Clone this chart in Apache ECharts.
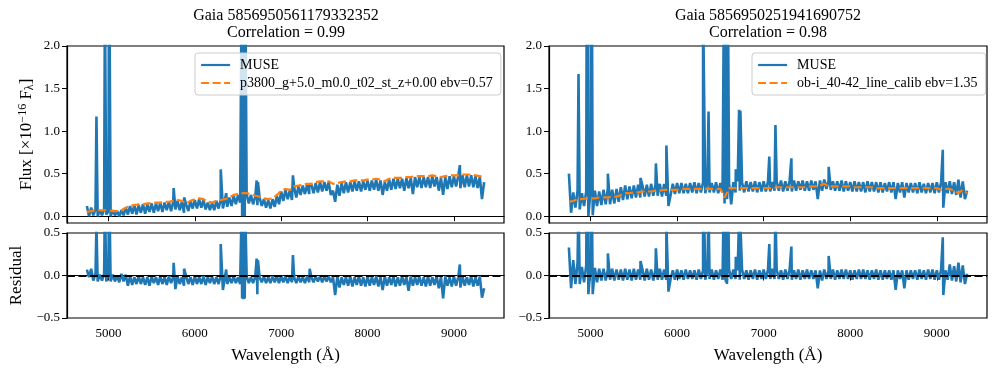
<!DOCTYPE html>
<html>
  <head>
    <meta charset="utf-8" />
    <title>Gaia spectra vs models</title>
    <script src="https://cdn.jsdelivr.net/npm/echarts@6/dist/echarts.min.js"></script>
  </head>
  <body style="margin:0;background:#fff;">
    <div id="main" style="width:997px;height:374px;"></div>
    <script type="text/javascript">
      // MUSE grid: 4750 .. 9350 A, 25 A step, alternating top / bottom of the noise band
      const waveStart = 4750, waveStep = 25;
      // model grid: 4750 .. 9350 A, 50 A step
      const modelStart = 4750, modelStep = 50;

      const leftFlux = [
        0.12, 0.00, 0.10, 0.01, 0.08, 0.00, 0.07, 0.01, 0.08, 0.02, 0.06, 0.00,
        0.07, 0.01, 0.06, 0.00, 0.07, 0.01, 0.10, 0.02, 0.12, 0.03, 0.13, 0.02,
        0.13, 0.04, 0.14, 0.03, 0.14, 0.05, 0.15, 0.04, 0.15, 0.06, 0.16, 0.05,
        0.16, 0.07, 0.17, 0.06, 0.17, 0.08, 0.18, 0.07, 0.17, 0.04, 0.14, 0.06,
        0.18, 0.09, 0.19, 0.09, 0.20, 0.10, 0.19, 0.08, 0.16, 0.07, 0.16, 0.07,
        0.18, 0.09, 0.19, 0.09, 0.20, 0.11, 0.22, 0.12, 0.24, 0.14, 0.25, 0.16,
        0.26, 0.16, 0.26, 0.15, 0.25, 0.14, 0.23, 0.13, 0.22, 0.12, 0.20, 0.10,
        0.19, 0.09, 0.20, 0.11, 0.24, 0.14, 0.29, 0.18, 0.31, 0.20, 0.30, 0.19,
        0.34, 0.22, 0.35, 0.25, 0.36, 0.26, 0.37, 0.26, 0.37, 0.27, 0.39, 0.28,
        0.40, 0.29, 0.40, 0.30, 0.40, 0.25, 0.30, 0.17, 0.37, 0.24, 0.39, 0.27,
        0.40, 0.28, 0.40, 0.29, 0.41, 0.30, 0.41, 0.29, 0.41, 0.31, 0.42, 0.30,
        0.42, 0.31, 0.43, 0.30, 0.42, 0.25, 0.40, 0.30, 0.43, 0.31, 0.44, 0.32,
        0.44, 0.33, 0.44, 0.30, 0.45, 0.33, 0.45, 0.26, 0.46, 0.34, 0.46, 0.33,
        0.46, 0.34, 0.46, 0.33, 0.47, 0.35, 0.46, 0.30, 0.45, 0.25, 0.46, 0.32,
        0.47, 0.34, 0.47, 0.35, 0.47, 0.33, 0.48, 0.34, 0.48, 0.35, 0.48, 0.34,
        0.47, 0.33, 0.46, 0.20, 0.40
      ];
      const leftModel = [
        0.05, 0.06, 0.07, 0.07, 0.07, 0.07, 0.06, 0.06, 0.07, 0.10, 0.12, 0.13,
        0.14, 0.14, 0.15, 0.15, 0.16, 0.16, 0.17, 0.17, 0.18, 0.19, 0.18, 0.15,
        0.18, 0.20, 0.21, 0.20, 0.17, 0.16, 0.18, 0.19, 0.20, 0.22, 0.25, 0.26,
        0.27, 0.27, 0.26, 0.24, 0.23, 0.21, 0.20, 0.21, 0.25, 0.30, 0.32, 0.31,
        0.35, 0.36, 0.37, 0.38, 0.38, 0.40, 0.41, 0.41, 0.41, 0.38, 0.39, 0.40,
        0.41, 0.41, 0.42, 0.42, 0.42, 0.43, 0.43, 0.44, 0.43, 0.41, 0.44, 0.45,
        0.45, 0.45, 0.46, 0.46, 0.47, 0.47, 0.47, 0.47, 0.48, 0.47, 0.46, 0.47,
        0.48, 0.48, 0.48, 0.49, 0.49, 0.49, 0.48, 0.47, 0.46
      ];
      const leftResid = [
        0.07, -0.02, 0.08, -0.06, 0.02, -0.07, 0.01, -0.06, 0.02, -0.07, 0.01, -0.07,
        0.01, -0.07, 0.00, -0.08, 0.02, -0.07, 0.01, -0.12, -0.01, -0.11, -0.02, -0.10,
        -0.01, -0.10, -0.02, -0.11, -0.02, -0.12, -0.01, -0.09, -0.02, -0.11, -0.01, -0.10,
        -0.02, -0.11, -0.01, -0.09, -0.02, -0.16, -0.01, -0.10, -0.02, -0.12, -0.01, -0.10,
        -0.02, -0.11, -0.01, -0.10, -0.02, -0.10, -0.01, -0.11, -0.02, -0.09, -0.01, -0.10,
        -0.02, -0.10, 0.00, -0.17, -0.01, -0.10, -0.02, -0.09, -0.01, -0.09, -0.02, -0.10,
        -0.01, -0.08, -0.01, -0.09, -0.02, -0.09, -0.01, -0.10, -0.02, -0.08, -0.01, -0.09,
        -0.02, -0.09, -0.01, -0.08, -0.01, -0.09, 0.00, -0.08, -0.01, -0.09, -0.01, -0.08,
        -0.02, -0.09, -0.01, -0.08, -0.02, -0.09, -0.01, -0.08, -0.02, -0.08, -0.01, -0.07,
        -0.01, -0.08, -0.01, -0.07, -0.01, -0.08, -0.02, -0.23, -0.01, -0.14, -0.02, -0.11,
        -0.02, -0.12, -0.01, -0.13, -0.02, -0.11, -0.01, -0.12, -0.02, -0.13, -0.01, -0.12,
        -0.02, -0.11, -0.01, -0.13, -0.02, -0.17, -0.01, -0.12, -0.02, -0.11, -0.01, -0.13,
        -0.02, -0.12, -0.01, -0.11, -0.02, -0.18, -0.01, -0.12, -0.02, -0.11, -0.01, -0.12,
        -0.02, -0.13, -0.01, -0.12, -0.02, -0.11, -0.01, -0.15, -0.02, -0.27, -0.01, -0.12,
        -0.02, -0.13, -0.01, -0.12, -0.02, -0.14, -0.01, -0.12, -0.02, -0.11, -0.01, -0.13,
        -0.02, -0.12, -0.01, -0.26, -0.15
      ];
      // emission lines / sky residuals: [wavelength, value]
      const leftLines = [
        [4861, 1.17], [4959, 2.6], [5007, 3.5], [5755, 0.33], [5876, 0.22], [6300, 0.55], [6363, 0.27],
        [6540, 2.4], [6548, 0.0], [6556, 3.5], [6563, 0.0], [6570, 6.0], [6578, 0.0], [6585, 2.8],
        [6716, 0.42], [6731, 0.40], [7136, 0.48], [7325, 0.38], [9069, 0.6]
      ];
      const leftResidLines = [
        [4861, 0.6], [4959, 0.9], [5007, 1.2], [5755, 0.15], [5876, 0.08], [6300, 0.37], [6363, 0.07],
        [6540, 0.7], [6548, -0.27], [6556, 0.9], [6563, -0.28], [6570, 1.0], [6578, -0.27], [6585, 0.7],
        [6716, 0.20], [6724, -0.22], [6731, 0.18], [7136, 0.24], [7330, 0.08], [9069, 0.13]
      ];

      const rightFlux = [
        0.50, 0.04, 0.28, 0.10, 0.30, 0.08, 0.27, 0.12, 0.29, 0.00, 0.31, 0.01,
        0.30, 0.12, 0.29, 0.13, 0.31, 0.14, 0.33, 0.14, 0.31, 0.15, 0.32, 0.17,
        0.34, 0.19, 0.36, 0.20, 0.35, 0.21, 0.36, 0.22, 0.37, 0.22, 0.36, 0.23,
        0.37, 0.23, 0.38, 0.24, 0.37, 0.24, 0.38, 0.23, 0.38, 0.24, 0.12, 0.25,
        0.38, 0.26, 0.39, 0.27, 0.39, 0.27, 0.38, 0.27, 0.39, 0.28, 0.40, 0.27,
        0.39, 0.28, 0.40, 0.27, 0.40, 0.28, 0.39, 0.28, 0.40, 0.27, 0.39, 0.28,
        0.40, 0.28, 0.39, 0.14, 0.40, 0.28, 0.41, 0.29, 0.40, 0.28, 0.41, 0.29,
        0.40, 0.29, 0.41, 0.28, 0.40, 0.29, 0.41, 0.29, 0.41, 0.29, 0.40, 0.30,
        0.41, 0.30, 0.42, 0.29, 0.41, 0.30, 0.42, 0.29, 0.42, 0.30, 0.41, 0.31,
        0.42, 0.30, 0.41, 0.30, 0.42, 0.31, 0.41, 0.20, 0.42, 0.30, 0.43, 0.32,
        0.42, 0.31, 0.41, 0.30, 0.41, 0.30, 0.42, 0.29, 0.41, 0.30, 0.40, 0.29,
        0.41, 0.29, 0.40, 0.29, 0.40, 0.28, 0.41, 0.29, 0.40, 0.29, 0.40, 0.28,
        0.40, 0.28, 0.39, 0.29, 0.40, 0.28, 0.40, 0.20, 0.39, 0.28, 0.40, 0.22,
        0.39, 0.28, 0.39, 0.28, 0.39, 0.27, 0.40, 0.28, 0.38, 0.27, 0.39, 0.28,
        0.39, 0.27, 0.40, 0.28, 0.40, 0.10, 0.40, 0.27, 0.41, 0.26, 0.40, 0.25,
        0.43, 0.22, 0.41, 0.20, 0.30
      ];
      const rightModel = [
        0.17, 0.18, 0.20, 0.20, 0.21, 0.21, 0.21, 0.22, 0.22, 0.22, 0.23, 0.23,
        0.25, 0.27, 0.27, 0.28, 0.28, 0.29, 0.29, 0.29, 0.30, 0.30, 0.31, 0.31,
        0.31, 0.31, 0.32, 0.32, 0.32, 0.32, 0.32, 0.32, 0.32, 0.32, 0.32, 0.32,
        0.22, 0.33, 0.33, 0.33, 0.33, 0.33, 0.33, 0.33, 0.33, 0.33, 0.33, 0.33,
        0.34, 0.34, 0.34, 0.34, 0.34, 0.34, 0.34, 0.34, 0.35, 0.35, 0.36, 0.38,
        0.35, 0.35, 0.35, 0.35, 0.35, 0.35, 0.34, 0.34, 0.34, 0.34, 0.34, 0.33,
        0.33, 0.33, 0.33, 0.33, 0.33, 0.33, 0.33, 0.33, 0.33, 0.33, 0.33, 0.33,
        0.33, 0.33, 0.31, 0.32, 0.32, 0.30, 0.27, 0.31, 0.27
      ];
      const rightResid = [
        0.33, -0.15, 0.18, -0.10, 0.15, -0.10, 0.10, -0.08, 0.12, -0.22, 0.10, -0.22,
        0.09, -0.08, 0.08, -0.06, 0.08, -0.06, 0.07, -0.05, 0.08, -0.06, 0.07, -0.05,
        0.07, -0.06, 0.08, -0.05, 0.07, -0.06, 0.08, -0.05, 0.07, -0.05, 0.07, -0.06,
        0.08, -0.05, 0.07, -0.06, 0.07, -0.05, 0.08, -0.05, 0.07, -0.05, -0.19, -0.04,
        0.06, -0.05, 0.07, -0.04, 0.06, -0.05, 0.07, -0.04, 0.06, -0.04, 0.06, -0.05,
        0.07, -0.04, 0.06, -0.05, 0.06, -0.04, 0.07, -0.05, 0.06, -0.04, 0.07, -0.05,
        0.06, -0.10, 0.07, -0.04, 0.07, -0.04, 0.06, -0.05, 0.07, -0.04, 0.06, -0.05,
        0.06, -0.04, 0.07, -0.05, 0.06, -0.04, 0.07, -0.04, 0.07, -0.04, 0.08, -0.04,
        0.07, -0.04, 0.06, -0.05, 0.07, -0.04, 0.07, -0.05, 0.06, -0.04, 0.07, -0.05,
        0.06, -0.04, 0.07, -0.04, 0.06, -0.04, 0.06, -0.15, 0.06, -0.06, 0.07, -0.04,
        0.06, -0.04, 0.07, -0.05, 0.06, -0.04, 0.07, -0.04, 0.07, -0.04, 0.06, -0.05,
        0.06, -0.04, 0.07, -0.04, 0.07, -0.04, 0.06, -0.05, 0.06, -0.04, 0.07, -0.05,
        0.06, -0.05, 0.06, -0.04, 0.06, -0.05, 0.06, -0.17, 0.06, -0.04, 0.06, -0.15,
        0.06, -0.05, 0.06, -0.04, 0.06, -0.05, 0.07, -0.04, 0.06, -0.05, 0.07, -0.04,
        0.07, -0.05, 0.06, -0.05, 0.07, -0.23, 0.06, -0.05, 0.13, -0.06, 0.11, -0.07,
        0.15, -0.08, 0.12, -0.10, 0.02
      ];
      const rightLines = [
        [4861, 1.67], [4959, 4.0], [5007, 5.0], [5200, 0.50], [5577, 0.45], [5755, 0.62], [5876, 0.83],
        [6300, 2.5], [6363, 1.23],
        [6540, 2.5], [6548, 0.15], [6556, 5.0], [6563, 0.3], [6570, 6.0], [6578, 0.2], [6585, 3.0],
        [6678, 0.55], [6716, 1.25], [6724, 0.3], [6731, 1.24], [7065, 0.70], [7136, 1.07], [7320, 0.68],
        [7751, 0.58], [9069, 0.78]
      ];
      const rightResidLines = [
        [4861, 0.9], [4959, 1.5], [5007, 1.8], [5200, 0.26], [5577, 0.17], [5755, 0.32], [5876, 0.6],
        [6300, 1.5], [6363, 0.8],
        [6540, 1.0], [6548, -0.05], [6556, 1.5], [6563, -0.08], [6570, 2.0], [6578, -0.05], [6585, 1.2],
        [6678, 0.22], [6716, 0.7], [6724, -0.05], [6731, 0.6], [7065, 0.37], [7136, 0.75], [7320, 0.34],
        [7751, 0.23], [9069, 0.45]
      ];

      const xTicks = [5000, 6000, 7000, 8000, 9000];
      const fluxTicks = [0, 0.5, 1.0, 1.5, 2.0];
      const titles = [
        "Gaia 5856950561179332352\nCorrelation = 0.99",
        "Gaia 5856950251941690752\nCorrelation = 0.98"
      ];
      const modelNames = [
        "p3800_g+5.0_m0.0_t02_st_z+0.00 ebv=0.57",
        "ob-i_40-42_line_calib ebv=1.35"
      ];

      const FONT = "Liberation Serif";
      const BLUE = "#1f77b4";
      const ORANGE = "#ff7f0e";

      function pairs(start, step, vals, extra) {
        const pts = vals.map((v, i) => [start + step * i, v]);
        return extra ? pts.concat(extra).sort((a, b) => a[0] - b[0]) : pts;
      }

      const grids = [
        { left: 67, top: 46, width: 437, height: 177 },
        { left: 67, top: 233, width: 437, height: 85 },
        { left: 549, top: 46, width: 438, height: 177 },
        { left: 549, top: 233, width: 438, height: 85 }
      ].map(g => Object.assign(g, { show: true, borderColor: "#000", borderWidth: 1.2 }));

      const xAxes = [0, 1, 2, 3].map(i => ({
        type: "value",
        gridIndex: i,
        min: 4520,
        max: 9580,
        name: i % 2 ? "Wavelength (Å)" : "",
        nameLocation: "middle",
        nameGap: 29,
        nameTextStyle: { fontFamily: FONT, fontSize: 17, color: "#000" },
        axisLine: { lineStyle: { color: "#000", width: 1.2 } },
        axisTick: { length: 5, lineStyle: { color: "#000" }, customValues: xTicks },
        axisLabel: {
          show: i % 2 === 1,
          customValues: xTicks,
          margin: 9,
          fontFamily: FONT,
          fontSize: 13,
          color: "#000",
          formatter: v => String(v)
        },
        splitLine: { show: false }
      }));

      const minus = v => (v < 0 ? "\u2212" : "") + Math.abs(v).toFixed(1);
      const yAxes = [0, 1, 2, 3].map(i => {
        const top = i % 2 === 0;
        const ax = {
          type: "value",
          gridIndex: i,
          axisLine: { show: true, lineStyle: { color: "#000", width: 1.2 } },
          axisTick: { show: true, length: 5, lineStyle: { color: "#000" } },
          axisLabel: { margin: 7, fontFamily: FONT, fontSize: 13, color: "#000", formatter: minus },
          splitLine: { show: false },
          nameLocation: "middle",
          nameTextStyle: { fontFamily: FONT, fontSize: 17, color: "#000" }
        };
        if (top) {
          ax.min = -0.08;
          ax.max = 2.0;
          ax.axisTick.customValues = fluxTicks;
          ax.axisLabel.customValues = fluxTicks;
          if (i === 0) {
            ax.name = "Flux [×10{sup|\u221216} F{sub|λ}]";
            ax.nameGap = 30;
            ax.nameTextStyle.rich = {
              sup: { fontFamily: FONT, fontSize: 12, color: "#000", padding: [0, 0, 8, 0] },
              sub: { fontFamily: FONT, fontSize: 12, color: "#000", padding: [6, 0, 0, 0] }
            };
          }
        } else {
          ax.min = -0.5;
          ax.max = 0.5;
          ax.interval = 0.5;
          if (i === 1) {
            ax.name = "Residual";
            ax.nameGap = 42;
          }
        }
        return ax;
      });

      const zeroLine = {
        silent: true,
        symbol: "none",
        label: { show: false },
        lineStyle: { color: "#000", width: 2.2, type: [8, 3.5] },
        data: [{ yAxis: 0 }]
      };

      function muse(name, xi, data, mark) {
        const s = {
          name: name,
          type: "line",
          xAxisIndex: xi,
          yAxisIndex: xi,
          data: data,
          symbol: "none",
          clip: true,
          lineStyle: { color: BLUE, width: 2.6, join: "bevel" },
          itemStyle: { color: BLUE }
        };
        if (mark) s.markLine = zeroLine;
        return s;
      }
      function model(name, xi, data) {
        return {
          name: name,
          type: "line",
          xAxisIndex: xi,
          yAxisIndex: xi,
          data: data,
          symbol: "none",
          clip: true,
          lineStyle: { color: ORANGE, width: 2.2, type: [8, 3.5] },
          itemStyle: { color: ORANGE }
        };
      }

      const series = [
        muse("MUSE", 0, pairs(waveStart, waveStep, leftFlux, leftLines)),
        model(modelNames[0], 0, pairs(modelStart, modelStep, leftModel)),
        muse("resid-left", 1, pairs(waveStart, waveStep, leftResid, leftResidLines), true),
        muse("MUSE", 2, pairs(waveStart, waveStep, rightFlux, rightLines)),
        model(modelNames[1], 2, pairs(modelStart, modelStep, rightModel)),
        muse("resid-right", 3, pairs(waveStart, waveStep, rightResid, rightResidLines), true)
      ];

      const legendBase = {
        orient: "vertical",
        top: 53,
        padding: [5, 8, 5, 5],
        itemGap: 4,
        itemWidth: 29,
        itemHeight: 14,
        backgroundColor: "rgba(255,255,255,0.8)",
        borderColor: "#cccccc",
        borderWidth: 1,
        borderRadius: 3,
        selectedMode: false,
        itemStyle: { color: "rgba(0,0,0,0)", borderWidth: 0 },
        lineStyle: { width: 2.2 },
        textStyle: { fontFamily: FONT, fontSize: 14, color: "#000", padding: [0, 0, 0, 5] }
      };

      const chart = echarts.init(document.getElementById("main"), null, { renderer: "canvas" });
      chart.setOption({
        animation: false,
        backgroundColor: "#fff",
        grid: grids,
        xAxis: xAxes,
        yAxis: yAxes,
        legend: [
          Object.assign({}, legendBase, { left: 195, data: ["MUSE", modelNames[0]] }),
          Object.assign({}, legendBase, { left: 752, data: ["MUSE", modelNames[1]] })
        ],
        graphic: [
          { type: "text", x: 286, y: 7, style: { text: titles[0], align: "center", fontFamily: FONT, fontSize: 16, lineHeight: 17, fill: "#000" } },
          { type: "text", x: 768, y: 7, style: { text: titles[1], align: "center", fontFamily: FONT, fontSize: 16, lineHeight: 17, fill: "#000" } }
        ],
        series: series
      });
    </script>
  </body>
</html>
